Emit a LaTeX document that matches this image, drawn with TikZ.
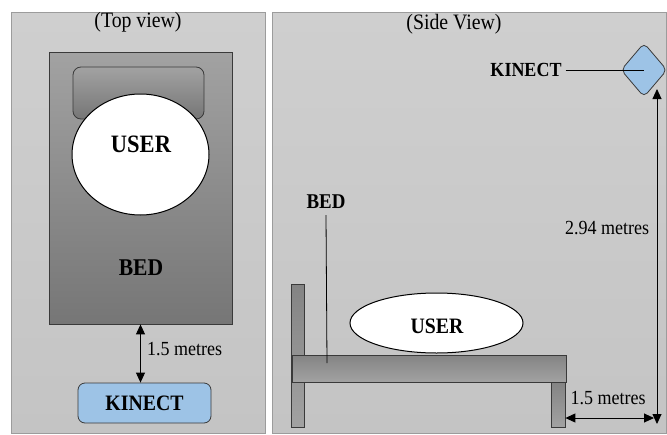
\documentclass[tikz,border=0pt]{standalone}
\usepackage{fontspec}
\usepackage{graphicx}
\setmainfont{Liberation Serif}
\usetikzlibrary{arrows.meta,shapes.geometric}
\definecolor{panelgray}{HTML}{CFCFCF}
\definecolor{panelgraybot}{HTML}{C4C4C4}
\definecolor{panelline}{HTML}{9C9C9C}
\definecolor{bedlight}{HTML}{A2A2A2}
\definecolor{beddark}{HTML}{767676}
\definecolor{kinectblue}{HTML}{9DC3E6}
\definecolor{edgegray}{HTML}{3A3A3A}
\newcommand\sqz[1]{\scalebox{0.9}[1]{#1}}
\newcommand\fs[1]{\fontsize{#1}{#1}\selectfont}
\tikzset{
  panel/.style={draw=panelline, line width=0.8pt, top color=panelgray, bottom color=panelgraybot},
  bedshade/.style={draw=edgegray, line width=0.8pt, top color=bedlight, bottom color=beddark, inner sep=0pt, rectangle},
  partshade/.style={draw=edgegray, line width=0.8pt, top color=beddark!90, bottom color=bedlight, inner sep=0pt, rectangle},
  userell/.style={ellipse, draw=black, line width=1pt, fill=white, inner sep=0pt},
  kinbox/.style={draw=edgegray, line width=0.8pt, fill=kinectblue, inner sep=0pt},
  txt/.style={inner sep=0pt, text=black},
  dim/.style={{Triangle[length=10pt,width=9pt]}-{Triangle[length=10pt,width=9pt]}, line width=0.9pt, black},
  leader/.style={line width=0.8pt, black}
}
\begin{document}
\begin{tikzpicture}[x=1pt,y=-1pt]
\useasboundingbox (0,0) rectangle (667,434);
\fill[white] (0,0) rectangle (667,434);
% panels
\node[panel, rectangle, minimum width=254pt, minimum height=421pt, inner sep=0pt] (lpanel) at (138,222.5) {};
\node[panel, rectangle, minimum width=394pt, minimum height=421pt, inner sep=0pt] (rpanel) at (469,222.5) {};
\node[txt] (ttop) at (138,22) {\fs{22}\sqz{(Top view)}};
\node[txt] (tside) at (454,24) {\fs{22}\sqz{(Side View)}};
% ---- top view
\node[bedshade, minimum width=183pt, minimum height=272pt] (bedtop) at (140.5,188) {};
\node[bedshade, rounded corners=8pt, minimum width=131pt, minimum height=52pt] (pillow) at (138.5,93) {};
\node[userell, minimum width=137pt, minimum height=121pt] (usertop) at (140.5,154.5) {};
\node[txt] (usertoptxt) at (141,144) {\fs{25}\bfseries\sqz{USER}};
\node[txt] (bedtoptxt) at (141,268) {\fs{24}\bfseries\sqz{BED}};
\node[kinbox, rectangle, rounded corners=7pt, minimum width=133pt, minimum height=40pt] (kintop) at (144.5,403) {\fs{22}\bfseries\sqz{KINECT}};
\draw[dim] (bedtop.south) -- (bedtop.south |- kintop.north);
\node[txt, anchor=west] (dtop) at (147,349) {\fs{20}\sqz{1.5 metres}};
% ---- side view
\node[partshade, minimum width=13pt, minimum height=143pt] (headpost) at (297.5,355.5) {};
\node[partshade, minimum width=14pt, minimum height=45pt] (footpost) at (558,404.5) {};
\node[partshade, minimum width=274pt, minimum height=27pt] (plank) at (429,368.5) {};
\node[userell, minimum width=173pt, minimum height=60pt] (userside) at (436.5,323) {};
\node[txt] (usersidetxt) at (437,326) {\fs{22}\bfseries\sqz{USER}};
\node[txt] (bedside) at (326,202) {\fs{21}\bfseries\sqz{BED}};
\coordinate (bedpt) at (327,363);
\draw[leader] (bedside.south) ++(0,6) -- (bedpt);
\node[kinbox, diamond, rounded corners=5pt, minimum width=46pt, minimum height=54pt] (kinside) at (644,70) {};
\node[txt] (kinsidetxt) at (526,70) {\fs{20}\bfseries\sqz{KINECT}};
\draw[leader] ([xshift=4pt]kinsidetxt.east) -- (kinside.center);
\coordinate (vtop) at (657,89);
\coordinate (vbot) at (657,424);
\draw[dim] (vtop) -- (vbot);
\node[txt] (d294) at (607,228) {\fs{20}\sqz{2.94 metres}};
\coordinate (hend) at (654,418);
\draw[dim] (footpost.east |- hend) -- (hend);
\node[txt] (dside) at (608,398) {\fs{20}\sqz{1.5 metres}};
\end{tikzpicture}
\end{document}
